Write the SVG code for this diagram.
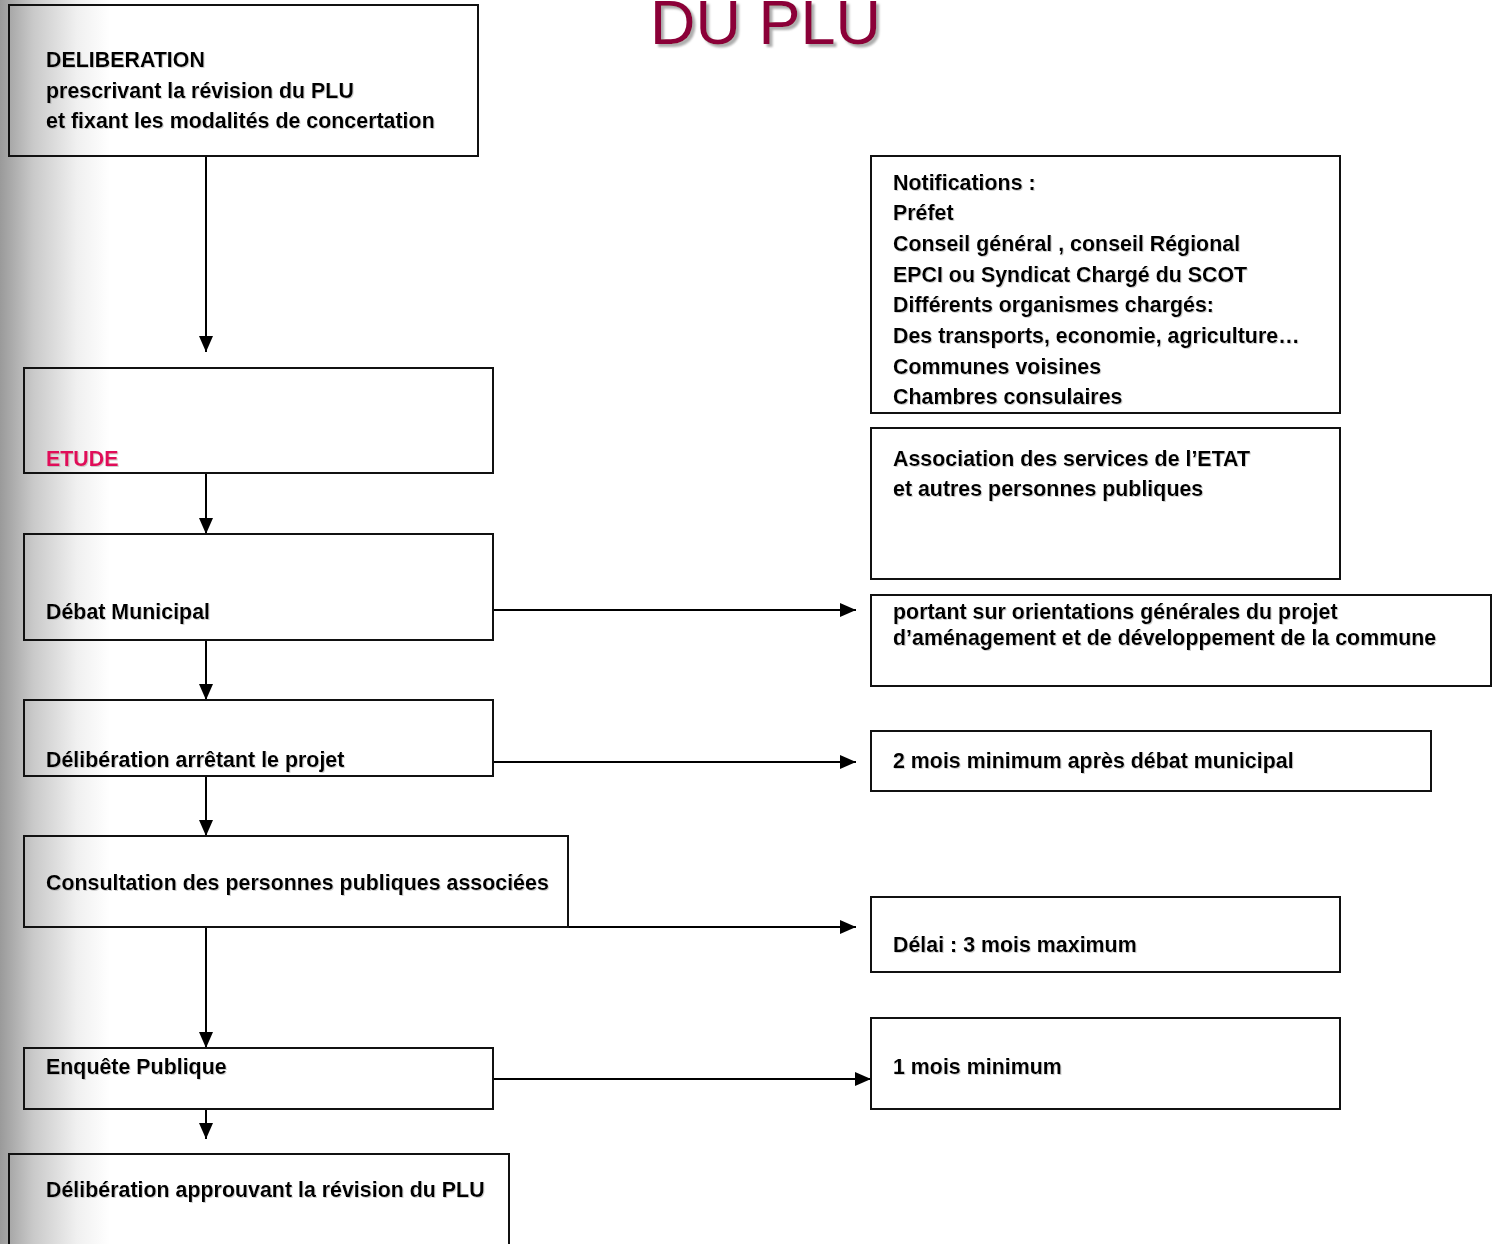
<svg xmlns="http://www.w3.org/2000/svg" width="1495" height="1244" viewBox="0 0 1495 1244">
<defs>
<linearGradient id="bg" x1="0" y1="0" x2="110" y2="0" gradientUnits="userSpaceOnUse">
<stop offset="0" stop-color="#9a9a9a"/>
<stop offset="0.3" stop-color="#c9c9c9"/>
<stop offset="0.7" stop-color="#f0f0f0"/>
<stop offset="1" stop-color="#ffffff"/>
</linearGradient>
<marker id="ah" viewBox="0 0 16 14" refX="16" refY="7" markerWidth="16" markerHeight="14" orient="auto" markerUnits="userSpaceOnUse">
<path d="M0,0 L16,7 L0,14 z" fill="#000"/>
</marker>
<filter id="sh" x="-5%" y="-20%" width="110%" height="140%">
<feDropShadow dx="1" dy="1" stdDeviation="0.5" flood-color="#999" flood-opacity="0.45"/>
</filter>
<filter id="tsh" x="-5%" y="-20%" width="110%" height="140%">
<feDropShadow dx="3" dy="3" stdDeviation="0.8" flood-color="#999" flood-opacity="0.8"/>
</filter>
</defs>
<style>
.box{fill:none;stroke:#111;stroke-width:2}
.t{font-family:"Liberation Sans",Arial,sans-serif;font-weight:bold;font-size:21.4px;fill:#000;filter:url(#sh)}
.pink{fill:#e0105a}
.c{fill:none;stroke:#000;stroke-width:2;marker-end:url(#ah)}
.title{font-family:"Liberation Sans",Arial,sans-serif;font-size:63px;fill:#8b0038;filter:url(#tsh)}
</style>
<rect x="0" y="0" width="1495" height="1244" fill="#fff"/>
<rect x="0" y="0" width="110" height="1244" fill="url(#bg)"/>
<text class="title" x="650" y="44">DU PLU</text>

<g id="connectors">
<path class="c" d="M206,156 V352"/>
<path class="c" d="M206,473 V534"/>
<path class="c" d="M206,640 V700"/>
<path class="c" d="M206,776 V836"/>
<path class="c" d="M206,927 V1048"/>
<path class="c" d="M206,1109 V1139"/>
<path class="c" d="M493,610 H856"/>
<path class="c" d="M493,762 H856"/>
<path class="c" d="M568,927 H856"/>
<path class="c" d="M493,1079 H871"/>
</g>

<g id="n-deliberation">
<rect class="box" x="9" y="5" width="469" height="151"/>
<text class="t" x="46" y="67">DELIBERATION</text>
<text class="t" x="46" y="98">prescrivant la révision du PLU</text>
<text class="t" x="46" y="128">et fixant les modalités de concertation</text>
</g>
<g id="n-etude">
<rect class="box" x="24" y="368" width="469" height="105"/>
<text class="t pink" x="46" y="466">ETUDE</text>
</g>
<g id="n-debat">
<rect class="box" x="24" y="534" width="469" height="106"/>
<text class="t" x="46" y="619">Débat Municipal</text>
</g>
<g id="n-arret">
<rect class="box" x="24" y="700" width="469" height="76"/>
<text class="t" x="46" y="767">Délibération arrêtant le projet</text>
</g>
<g id="n-consultation">
<rect class="box" x="24" y="836" width="544" height="91"/>
<text class="t" x="46" y="890">Consultation des personnes publiques associées</text>
</g>
<g id="n-enquete">
<rect class="box" x="24" y="1048" width="469" height="61"/>
<text class="t" x="46" y="1074">Enquête Publique</text>
</g>
<g id="n-approbation">
<rect class="box" x="9" y="1154" width="500" height="100"/>
<text class="t" x="46" y="1197">Délibération approuvant la révision du PLU</text>
</g>

<g id="n-notifications">
<rect class="box" x="871" y="156" width="469" height="257"/>
<text class="t" x="893" y="190">Notifications :</text>
<text class="t" x="893" y="220">Préfet</text>
<text class="t" x="893" y="251">Conseil général , conseil Régional</text>
<text class="t" x="893" y="282">EPCI ou Syndicat Chargé du SCOT</text>
<text class="t" x="893" y="312">Différents organismes chargés:</text>
<text class="t" x="893" y="343">Des transports, economie, agriculture…</text>
<text class="t" x="893" y="374">Communes voisines</text>
<text class="t" x="893" y="404">Chambres consulaires</text>
</g>
<g id="n-association">
<rect class="box" x="871" y="428" width="469" height="151"/>
<text class="t" x="893" y="466">Association des services de l’ETAT</text>
<text class="t" x="893" y="496">et autres personnes publiques</text>
</g>
<g id="n-portant">
<rect class="box" x="871" y="595" width="620" height="91"/>
<text class="t" x="893" y="619">portant sur orientations générales du projet</text>
<text class="t" x="893" y="645">d’aménagement et de développement de la commune</text>
</g>
<g id="n-deuxmois">
<rect class="box" x="871" y="731" width="560" height="60"/>
<text class="t" x="893" y="768">2 mois minimum après débat municipal</text>
</g>
<g id="n-delai">
<rect class="box" x="871" y="897" width="469" height="75"/>
<text class="t" x="893" y="952">Délai : 3 mois maximum</text>
</g>
<g id="n-unmois">
<rect class="box" x="871" y="1018" width="469" height="91"/>
<text class="t" x="893" y="1074">1 mois minimum</text>
</g>
</svg>
